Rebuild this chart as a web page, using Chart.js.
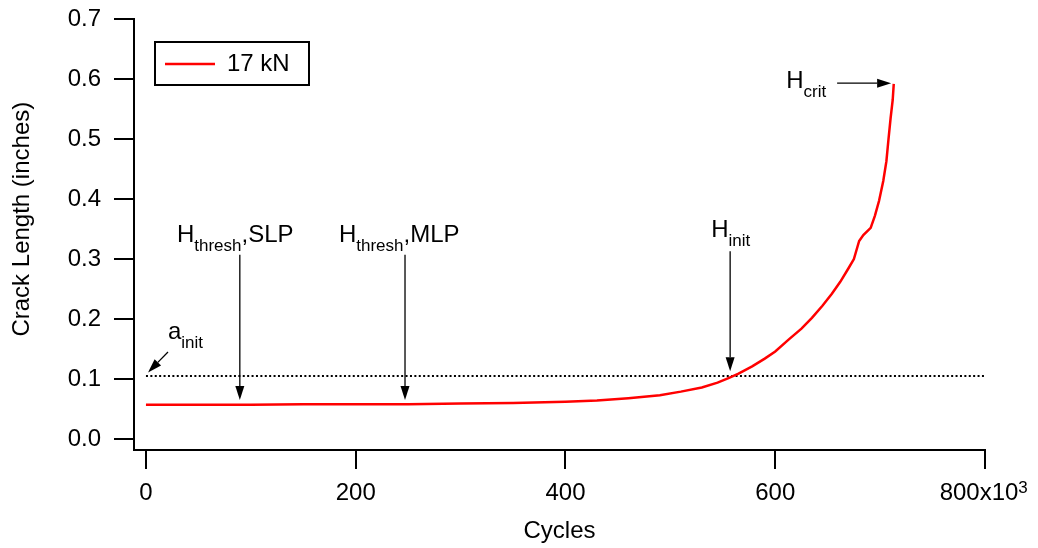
<!DOCTYPE html>
<html>
<head>
<meta charset="utf-8">
<script src="https://cdn.jsdelivr.net/npm/chart.js@4.4.1/dist/chart.umd.min.js"></script>
<style>
    html, body { margin: 0; padding: 0; background: #fff; }
</style>
</head>
<body>
<canvas id="chart" width="1038" height="548"></canvas>
<script>
// cycles in thousands, crack length in inches
const cycles = [0, 50, 100, 150, 200, 250, 300, 350, 400, 430, 460, 490, 510, 530, 545, 556, 565, 578, 590, 600,
    613, 625, 635, 645, 654, 662, 670, 675, 680, 684, 691, 695, 699, 703, 706, 708, 710, 712, 713];
const crackLength = [0.057, 0.057, 0.057, 0.058, 0.058, 0.058, 0.059, 0.060, 0.062, 0.064, 0.068, 0.073, 0.079,
    0.086, 0.094, 0.102, 0.109, 0.121, 0.134, 0.146, 0.166, 0.184, 0.202, 0.222, 0.242, 0.262, 0.285, 0.300,
    0.330, 0.340, 0.352, 0.372, 0.397, 0.430, 0.463, 0.500, 0.535, 0.565, 0.592];
const seriesLabel = '17 kN';

const aInitCycles = [0, 800];
const aInitLength = [0.105, 0.105];

const xTicks = [0, 200, 400, 600, 800];
const yTicks = [0, 0.1, 0.2, 0.3, 0.4, 0.5, 0.6, 0.7];

// annotation arrows and labels, in data units
const arrows = [
    { from: [89.5, 0.307], to: [89.5, 0.065] },
    { from: [247, 0.307], to: [247, 0.065] },
    { from: [557, 0.313], to: [557, 0.113] },
    { from: [659, 0.593], to: [710.5, 0.593] },
    { from: [21, 0.145], to: [2, 0.111] },
];
const notes = [
    { at: [29.5, 0.328], main: 'H', sub: 'thresh', tail: ',SLP' },
    { at: [184, 0.328], main: 'H', sub: 'thresh', tail: ',MLP' },
    { at: [539, 0.337], main: 'H', sub: 'init', tail: '' },
    { at: [610.5, 0.585], main: 'H', sub: 'crit', tail: '' },
    { at: [21, 0.166], main: 'a', sub: 'init', tail: '' },
];

const FAMILY = "'Liberation Sans', Arial, sans-serif";
const BIG = 24;
const SMALL = 17;

function drawArrow(ctx, x1, y1, x2, y2) {
    const ang = Math.atan2(y2 - y1, x2 - x1);
    const len = 14;
    const half = 4.5;
    const bx = x2 - len * Math.cos(ang);
    const by = y2 - len * Math.sin(ang);

    ctx.beginPath();
    ctx.moveTo(x1, y1);
    ctx.lineTo(bx, by);
    ctx.stroke();

    ctx.beginPath();
    ctx.moveTo(x2, y2);
    ctx.lineTo(bx + half * Math.sin(ang), by - half * Math.cos(ang));
    ctx.lineTo(bx - half * Math.sin(ang), by + half * Math.cos(ang));
    ctx.closePath();
    ctx.fill();
}

function noScalePadding(s) {
    s.paddingTop = 0;
    s.paddingBottom = 0;
    s.paddingLeft = 0;
    s.paddingRight = 0;
}

const annotationPlugin = {
    id: 'annotations',
    afterDatasetsDraw(chart) {
        const { ctx, scales: { x, y }, chartArea } = chart;
        ctx.save();
        ctx.strokeStyle = '#000';
        ctx.fillStyle = '#000';
        ctx.lineWidth = 1.3;

        arrows.forEach((a) => {
            drawArrow(ctx,
                x.getPixelForValue(a.from[0]), y.getPixelForValue(a.from[1]),
                x.getPixelForValue(a.to[0]), y.getPixelForValue(a.to[1]));
        });

        ctx.textBaseline = 'alphabetic';
        ctx.textAlign = 'left';
        notes.forEach((n) => {
            let px = x.getPixelForValue(n.at[0]);
            const py = y.getPixelForValue(n.at[1]);
            ctx.font = `${BIG}px ${FAMILY}`;
            ctx.fillText(n.main, px, py);
            px += ctx.measureText(n.main).width;
            ctx.font = `${SMALL}px ${FAMILY}`;
            ctx.fillText(n.sub, px, py + 9);
            px += ctx.measureText(n.sub).width;
            if (n.tail) {
                ctx.font = `${BIG}px ${FAMILY}`;
                ctx.fillText(n.tail, px, py);
            }
        });

        // legend box
        const ds = chart.data.datasets[0];
        const lx = chartArea.left + 21;
        const ly = chartArea.top + 23;
        ctx.lineWidth = 2;
        ctx.strokeRect(lx, ly, 154, 43);
        ctx.strokeStyle = ds.borderColor;
        ctx.lineWidth = ds.borderWidth;
        ctx.beginPath();
        ctx.moveTo(lx + 10, ly + 22);
        ctx.lineTo(lx + 60, ly + 22);
        ctx.stroke();
        ctx.font = `${BIG}px ${FAMILY}`;
        ctx.textBaseline = 'middle';
        ctx.fillText(ds.label, lx + 72, ly + 22);

        // x10^3 exponent on the last x tick label
        ctx.font = `${BIG}px ${FAMILY}`;
        const base = '800x10';
        const full = ctx.measureText(base + '\u2002').width;
        const sx = x.getPixelForValue(800) - full / 2 + ctx.measureText(base).width;
        ctx.font = `${SMALL}px ${FAMILY}`;
        ctx.textBaseline = 'alphabetic';
        ctx.fillText('3', sx, 493);
        ctx.restore();
    },
};

new Chart(document.getElementById('chart'), {
    type: 'line',
    data: {
        datasets: [
            {
                label: seriesLabel,
                data: cycles.map((c, i) => ({ x: c, y: crackLength[i] })),
                borderColor: '#ff0000',
                borderWidth: 2.5,
                pointRadius: 0,
                tension: 0,
            },
            {
                label: 'a_init',
                data: aInitCycles.map((c, i) => ({ x: c, y: aInitLength[i] })),
                borderColor: '#000',
                borderWidth: 2,
                borderDash: [2, 2.4],
                pointRadius: 0,
            },
        ],
    },
    options: {
        responsive: false,
        animation: false,
        devicePixelRatio: 1,
        layout: { padding: { left: 0, top: 19, right: 53, bottom: 0 } },
        plugins: {
            legend: { display: false },
            tooltip: { enabled: false },
        },
        scales: {
            x: {
                type: 'linear',
                min: -11.4,
                max: 800,
                afterBuildTicks: (s) => { s.ticks = xTicks.map((v) => ({ value: v })); },
                afterFit: (s) => { s.height = 98; noScalePadding(s); },
                ticks: {
                    autoSkip: false,
                    maxRotation: 0,
                    padding: 10,
                    color: '#000',
                    font: { family: FAMILY, size: BIG },
                    callback: (v) => (v === 800 ? '800x10\u2002' : String(v)),
                },
                grid: { drawOnChartArea: false, drawTicks: true, tickLength: 19, color: '#000', lineWidth: 2 },
                border: { color: '#000', width: 2 },
                title: {
                    display: true,
                    text: 'Cycles',
                    color: '#000',
                    font: { family: FAMILY, size: BIG },
                    padding: { top: 0, bottom: 2 },
                },
            },
            y: {
                type: 'linear',
                min: -0.0183,
                max: 0.7,
                afterBuildTicks: (s) => { s.ticks = yTicks.map((v) => ({ value: v })); },
                afterFit: (s) => { s.width = 134; noScalePadding(s); },
                ticks: {
                    padding: 13,
                    color: '#000',
                    font: { family: FAMILY, size: BIG },
                    callback: (v) => v.toFixed(1),
                },
                grid: { drawOnChartArea: false, drawTicks: true, tickLength: 20, color: '#000', lineWidth: 2 },
                border: { color: '#000', width: 2 },
                title: {
                    display: true,
                    text: '\u2002\u2002 Crack Length (inches)',
                    color: '#000',
                    font: { family: FAMILY, size: BIG },
                    padding: { top: 8, bottom: 0 },
                },
            },
        },
    },
    plugins: [annotationPlugin],
});
</script>
</body>
</html>
